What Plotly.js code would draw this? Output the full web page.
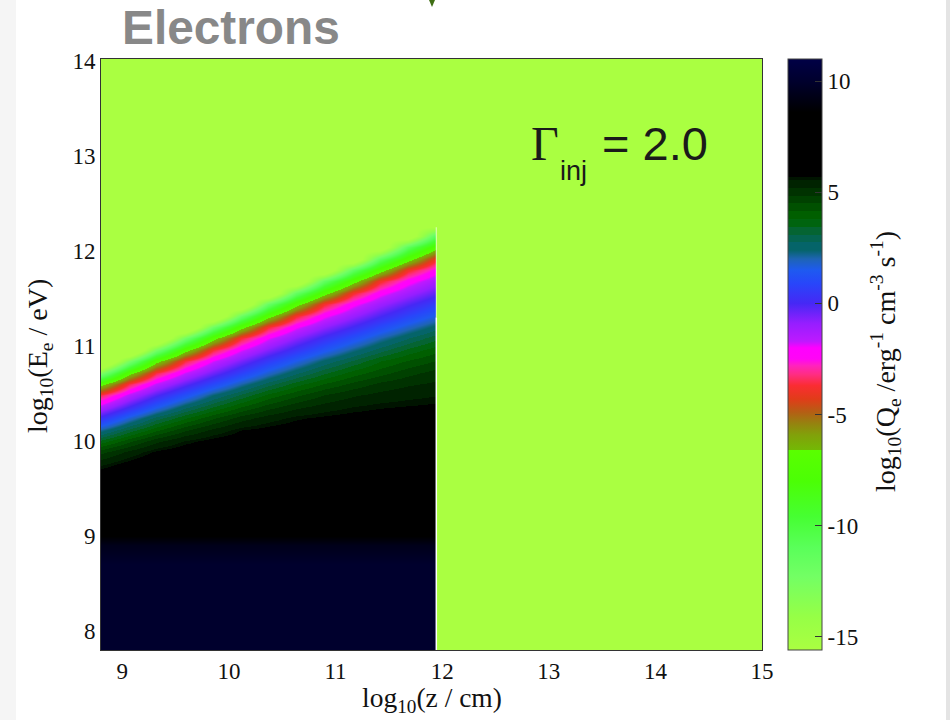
<!DOCTYPE html>
<html>
<head>
<meta charset="utf-8">
<script src="https://cdn.plot.ly/plotly-3.0.1.min.js"></script>
<style>html,body{margin:0;padding:0;background:#fff}#chart{width:950px;height:720px}</style>
</head>
<body>
<div id="chart"></div>
<script>
const T = -15.6;
const logZ = [8.8,9.06,9.32,9.59,9.85,10.11,10.37,10.63,10.89,11.16,11.42,11.68,11.94,11.945,15.1];
const logE = [14.1,12.40,12.28,12.16,12.04,11.92,11.80,11.68,11.56,11.44,11.32,11.20,11.08,10.96,10.84,10.72,10.60,10.48,10.36,10.24,10.12,10.00,9.88,9.76,9.64,9.50,9.0,8.9,8.7,7.8];

const col0  = [T,T,T,T,T,T,T,T,T,T,T,T,T,T,-19.7,-12.86,-7.15,-3.52,-1.48,0.28,2.15,3.57,4.74,5.48,6.0,6.5,8.6,9.4,10,10];
const col1  = [T,T,T,T,T,T,T,T,T,T,T,T,T,-19.5,-12.63,-7.18,-3.57,-1.58,0.06,1.75,3.22,4.4,5.31,5.87,6.29,6.77,8.6,9.4,10,10];
const col2  = [T,T,T,T,T,T,T,T,T,T,T,T,-19.2,-12.45,-7.18,-3.61,-1.68,-0.13,1.43,2.91,4.07,5.1,5.78,6.15,6.52,6.95,8.6,9.4,10,10];
const col3  = [T,T,T,T,T,T,T,T,T,T,T,-19.1,-12.23,-7.2,-3.66,-1.77,-0.29,1.17,2.63,3.77,4.79,5.58,5.99,6.33,6.67,7.07,8.6,9.4,10,10];
const col4  = [T,T,T,T,T,T,T,T,T,T,-18.85,-12,-7.2,-3.69,-1.85,-0.45,0.94,2.36,3.46,4.45,5.3,5.85,6.17,6.48,6.8,7.17,8.6,9.4,10,10];
const col5  = [T,T,T,T,T,T,T,T,T,-18.6,-11.86,-7.22,-3.73,-1.92,-0.58,0.73,2.06,3.18,4.16,5.03,5.7,6.0,6.3,6.6,6.9,7.25,8.6,9.4,10,10];
const col6  = [T,T,T,T,T,T,T,T,-18.4,-11.68,-7.22,-3.75,-1.98,-0.7,0.55,1.8,2.93,3.9,4.7,5.39,5.84,6.13,6.41,6.7,6.98,7.3,8.6,9.4,10,10];
const col7  = [T,T,T,T,T,T,T,-18.2,-11.52,-7.23,-3.79,-2.04,-0.8,0.38,1.56,2.69,3.65,4.42,5.11,5.65,5.95,6.22,6.5,6.77,7.04,7.36,8.6,9.4,10,10];
const col8  = [T,T,T,T,T,T,-18.0,-11.4,-7.24,-3.82,-2.1,-0.9,0.23,1.35,2.47,3.39,4.18,4.86,5.37,5.78,6.04,6.3,6.57,6.83,7.09,7.4,8.6,9.4,10,10];
const col9  = [T,T,T,T,T,-17.8,-11.26,-7.25,-3.84,-2.16,-0.99,0.08,1.16,2.24,3.16,3.97,4.61,5.15,5.56,5.87,6.12,6.38,6.63,6.89,7.14,7.44,8.6,9.4,10,10];
const col10 = [T,T,T,T,-17.5,-11.12,-7.26,-3.88,-2.21,-1.08,-0.04,0.99,2.02,2.94,3.79,4.37,4.95,5.32,5.67,5.93,6.18,6.43,6.67,6.92,7.17,7.46,8.6,9.4,10,10];
const col11 = [T,T,T,-17.4,-11.02,-7.26,-3.89,-2.28,-1.16,-0.16,0.83,1.82,2.73,3.56,4.19,4.73,5.15,5.44,5.73,5.97,6.22,6.46,6.7,6.95,7.2,7.48,8.6,9.4,10,10];
const col12 = [T,T,-17.1,-10.9,-7.27,-3.92,-2.34,-1.24,-0.26,0.69,1.63,2.54,3.34,4.01,4.52,5.01,5.27,5.53,5.78,6.02,6.26,6.5,6.74,6.98,7.22,7.48,8.6,9.4,10,10];
const col13 = [T,T,T,T,T,T,T,T,T,T,T,T,T,T,T,T,T,T,T,T,T,T,T,T,T,T,T,T,T,T];
const col14 = [T,T,T,T,T,T,T,T,T,T,T,T,T,T,T,T,T,T,T,T,T,T,T,T,T,T,T,T,T,T];

const cbLevels = [-15.6,-14.1,-12.3,-11,-9.6,-8,-6.6,-6.6,-5.9,-5.4,-4.9,-4.3,-3.7,-3.2,-2.8,-2.5,-2.0,-1.7,-0.9,0,0.9,1.5,2.0,2.4,2.75,2.75,3.1,3.1,3.45,3.45,3.8,3.8,4.15,4.15,4.5,4.5,4.85,4.85,5.2,5.2,5.55,5.55,5.7,5.7,8.6,10,11];
const cbColors = ['rgb(170,255,65)','rgb(150,255,70)','rgb(115,255,100)','rgb(90,255,90)','rgb(70,255,50)','rgb(75,255,5)','rgb(90,255,0)','rgb(115,185,5)','rgb(130,160,10)','rgb(150,130,15)','rgb(180,95,20)','rgb(225,60,25)','rgb(250,45,50)','rgb(255,45,130)','rgb(255,35,190)','rgb(255,5,245)','rgb(255,0,255)','rgb(190,25,255)','rgb(150,30,255)','rgb(70,40,245)','rgb(40,70,250)','rgb(30,90,240)','rgb(30,100,180)','rgb(5,100,105)','rgb(5,100,105)','rgb(5,100,80)','rgb(5,100,80)','rgb(5,100,50)','rgb(5,100,50)','rgb(0,100,15)','rgb(0,100,15)','rgb(0,95,0)','rgb(0,95,0)','rgb(0,80,0)','rgb(0,80,0)','rgb(0,65,0)','rgb(0,65,0)','rgb(0,50,0)','rgb(0,50,0)','rgb(0,35,0)','rgb(0,35,0)','rgb(0,20,0)','rgb(0,20,0)','rgb(0,0,0)','rgb(0,0,0)','rgb(0,0,45)','rgb(0,0,70)'];
const cbTickVals = [-15,-10,-5,0,5,10];
const cbTickText = ['-15','-10','-5','0','5','10'];
const xTickVals = [9,10,11,12,13,14,15];
const yTickVals = [8,9,10,11,12,13,14];

const zMin = -15.6, zMax = 11;
const scale = cbLevels.map((v,i)=>[(v-zMin)/(zMax-zMin), cbColors[i]]);
const SERIF = '"Liberation Serif", serif';
const SANS = '"Liberation Sans", sans-serif';
const L=101,R=762,TOP=59,B=650;
const px = v => (v-L)/(R-L);
const py = v => (B-v)/(B-TOP);

Plotly.newPlot('chart',[{
  type:'heatmap',
  x:logZ, y:logE,
  z:[col0,col1,col2,col3,col4,col5,col6,col7,col8,col9,col10,col11,col12,col13,col14],
  transpose:true,
  zsmooth:'best',
  zmin:zMin, zmax:zMax,
  colorscale:scale,
  hoverinfo:'skip',
  colorbar:{
    x:px(788), xanchor:'left', xpad:0, y:0.5, yanchor:'middle', ypad:0,
    len:1, lenmode:'fraction', thickness:34, thicknessmode:'pixels',
    outlinecolor:'#444', outlinewidth:1, borderwidth:0,
    tickmode:'array', tickvals:cbTickVals, ticktext:cbTickText,
    ticks:'inside', ticklen:7, tickwidth:1, tickcolor:'#333',
    tickfont:{family:SERIF,size:23,color:'#111'}
  }
}],{
  width:950,height:720,
  margin:{l:L,r:950-R,t:TOP,b:720-B,pad:0},
  paper_bgcolor:'#fff',plot_bgcolor:'#fff',
  showlegend:false,
  title:{text:'Electrons',x:122/950,xanchor:'left',xref:'container',y:1-27/720,yanchor:'middle',yref:'container',
    font:{family:SANS,size:47.8,weight:700,color:'#888888'}},
  xaxis:{range:[8.8,15],tickmode:'array',tickvals:xTickVals,ticks:'',
    tickfont:{family:SERIF,size:23,color:'#111'},showgrid:false,zeroline:false,showline:true,mirror:true,linecolor:'#333',linewidth:1},
  yaxis:{range:[7.8,14.02],tickmode:'array',tickvals:yTickVals,ticks:'',
    tickfont:{family:SERIF,size:23,color:'#111'},showgrid:false,zeroline:false,showline:true,mirror:true,linecolor:'#333',linewidth:1},
  annotations:[
    {xref:'paper',yref:'paper',x:px(431.5),y:py(699),text:'log<sub>10</sub>(z / cm)',showarrow:false,
      font:{family:SERIF,size:27.5,color:'#111'},xanchor:'center',yanchor:'middle'},
    {xref:'paper',yref:'paper',x:px(39),y:py(356),text:'log<sub>10</sub>(E<sub>e</sub> / eV)',textangle:-90,showarrow:false,
      font:{family:SERIF,size:28,color:'#111'},xanchor:'center',yanchor:'middle'},
    {xref:'paper',yref:'paper',x:px(885),y:py(362),text:'log<sub>10</sub>(Q<sub>e</sub> /erg<sup>-1</sup> cm<sup>-3</sup> s<sup>-1</sup>)',textangle:-90,showarrow:false,
      font:{family:SERIF,size:28,color:'#111'},xanchor:'center',yanchor:'middle'},
    {xref:'paper',yref:'paper',x:px(532),y:py(144),text:'Γ',showarrow:false,xanchor:'left',yanchor:'middle',xshift:-3,
      font:{family:SERIF,size:48,color:'#1a1a1a'}},
    {xref:'paper',yref:'paper',x:px(558),y:py(171),text:'inj',showarrow:false,xanchor:'left',yanchor:'middle',
      font:{family:SANS,size:27,color:'#1a1a1a'}},
    {xref:'paper',yref:'paper',x:px(600),y:py(144),text:'= 2.0',showarrow:false,xanchor:'left',yanchor:'middle',
      font:{family:SANS,size:47,color:'#1a1a1a'}}
  ],
  shapes:[
    {type:'rect',xref:'paper',yref:'paper',x0:px(0),x1:px(16),y0:py(0),y1:py(720),fillcolor:'#f5f5f5',line:{width:0},layer:'below'},
    {type:'rect',xref:'paper',yref:'paper',x0:px(946),x1:px(950),y0:py(0),y1:py(720),fillcolor:'#e4e4e4',line:{width:0},layer:'below'},
    {type:'path',xref:'paper',yref:'paper',path:`M ${px(429)} ${py(0)} L ${px(435)} ${py(0)} L ${px(432)} ${py(7)} Z`,fillcolor:'#3f6e14',line:{width:0},layer:'below'},
    {type:'line',xref:'x',yref:'y',x0:11.945,x1:11.945,y0:7.8,y1:11.3,line:{color:'#fff',width:1.5},layer:'above'},
    {type:'line',xref:'x',yref:'y',x0:11.945,x1:11.945,y0:11.3,y1:12.25,line:{color:'rgba(255,255,255,0.55)',width:1.2},layer:'above'}
  ]
},{displayModeBar:false});
</script>
</body>
</html>
